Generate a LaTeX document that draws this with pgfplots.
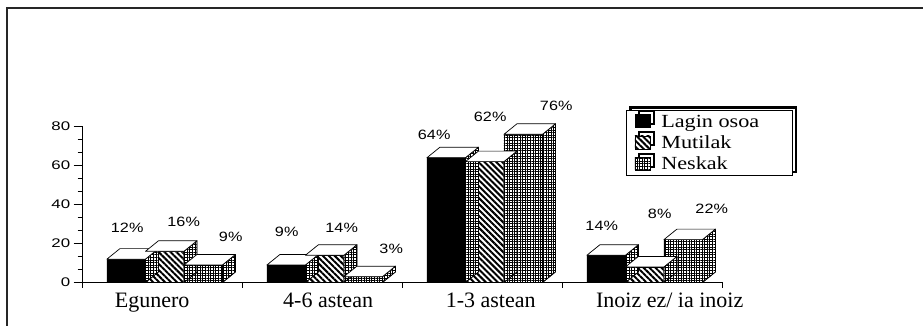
\documentclass[border=0pt]{standalone}
\usepackage{fontspec}
\setmainfont{Liberation Serif}
\newfontfamily\arialY[FakeStretch=1.35]{Liberation Sans}
\newfontfamily\arialP[FakeStretch=1.2]{Liberation Sans}
\newfontfamily\timesL[FakeStretch=1.2]{Liberation Serif}
\usepackage{pgfplots}
\usepackage{pgfplotstable}
\pgfplotsset{compat=1.18}
\usetikzlibrary{patterns.meta,shadows}

\tikzset{
  sidepat/.style={preaction={fill=white},pattern={Hatch[angle=0,distance=2.6pt,line width=1pt]},pattern color=black},
  mutpat/.style={preaction={fill=white},pattern={Lines[angle=-45,distance=4.2pt,line width=2pt]},pattern color=black},
  nespat/.style={preaction={fill=white},pattern={Hatch[angle=0,distance=2.6pt,line width=1pt]},pattern color=black},
}

% 3D top and side faces of a bar, drawn by pgfplots at each data point
\newcommand\declarebox[2]{%
 \pgfdeclareplotmark{#1}{%
  \pgfmathsetmacro\bxh{\yval*1.95}%
  \pgfmathsetmacro\bxl{#2-19.25}%
  \pgfmathsetmacro\bxr{#2+19.25}%
  \pgfmathsetmacro\bxlb{#2-19.25+13}%
  \pgfmathsetmacro\bxrb{#2+19.25+13}%
  \pgfmathsetmacro\bxhb{10.5-\bxh}%
  \path[draw=black,line width=0.7pt,line join=round,sidepat]
    (\bxr pt,0pt) -- (\bxr pt,-\bxh pt) -- (\bxrb pt,\bxhb pt) -- (\bxrb pt,10.5pt) -- cycle;
  \path[draw=black,line width=0.7pt,line join=round,fill=white]
    (\bxl pt,0pt) -- (\bxr pt,0pt) -- (\bxrb pt,10.5pt) -- (\bxlb pt,10.5pt) -- cycle;
 }}
\declarebox{boxA}{-36.5}
\declarebox{boxB}{2}
\declarebox{boxC}{40.5}

% x = category centre, y = value, lx/ly = label offset (pt)
\pgfplotstableread{
x y lx ly
0.5 12 -35.5 31.3
1.5 9 -36 33.1
2.5 64 -48.5 23
3.5 14 -41 29.4
}\tblA
\pgfplotstableread{
x y lx ly
0.5 16 21 29
1.5 14 19 27.4
2.5 62 7.5 44.4
3.5 8 17 53.5
}\tblB
\pgfplotstableread{
x y lx ly
0.5 9 68 28.1
1.5 3 68.5 27.7
2.5 76 73.5 28.75
3.5 22 69 30.4
}\tblC

\pgfplotsset{
  boxplot3d/.style={scatter, only marks, forget plot,
    visualization depends on={rawy \as \yval},
    visualization depends on={\thisrow{lx} \as \lx},
    visualization depends on={\thisrow{ly} \as \ly},
    scatter/@pre marker code/.code={\pgfscope},
    scatter/@post marker code/.code={\endpgfscope},
    point meta=y,
    nodes near coords={\pgfmathprintnumber{\pgfplotspointmeta}\%},
    every node near coord/.append style={anchor=center, xshift=\lx pt, yshift=\ly pt,
      font=\arialP\fontsize{13.5}{15}\selectfont, text=black, inner sep=0pt},
  },
  swatch/.style={legend image code/.code={%
    \path (0pt,0pt) (27pt,0pt);
    \path[draw=black,line width=0.7pt,#1] (3pt,-6pt) rectangle (18pt,7pt);}},
}

\begin{document}
\begin{tikzpicture}
\useasboundingbox (0,0) rectangle (923pt,325pt);
\draw[line width=1.8pt, black!85] (7pt,-2pt) -- (7pt,317pt) -- (926pt,317pt);
\begin{axis}[
  at={(82.7pt,42.5pt)}, anchor=south west,
  scale only axis, width=640pt, height=156pt,
  xmin=0, xmax=4, ymin=0, ymax=80,
  clip=false,
  axis x line*=bottom, axis y line*=left,
  axis line style={line width=1pt, -},
  ytick={0,20,40,60,80}, minor y tick num=2,
  xtick={0.434,1.534,2.55,3.669},
  xticklabels={Egunero, 4-6 astean, 1-3 astean, Inoiz ez/ ia inoiz},
  minor xtick={0,1,2,3,4},
  every major x tick/.append style={draw=none},
  tick align=outside,
  major tick length=9pt, minor tick length=5pt,
  tick style={black, line width=0.9pt},
  /pgf/number format/assume math mode=true,
  yticklabel style={font=\arialY\fontsize{12.5}{14}\selectfont},
  xticklabel style={font=\fontsize{22}{24}\selectfont, inner sep=1pt},
  legend cell align=left,
  legend style={at={(axis description cs:0.849,1.103)}, anchor=north west,
    draw=black, line width=1pt, fill=white,
    general shadow={shadow xshift=4pt, shadow yshift=3.5pt, draw=black, line width=2.2pt, fill=white},
    font=\timesL\fontsize{18.5}{20}\selectfont,
    inner xsep=5pt, inner ysep=2pt, row sep=3pt},
]
\addplot[ybar, bar width=38.5pt, bar shift=-36.5pt, draw=black, line width=0.7pt, fill=black,
  swatch={fill=black}]
  table[x=x,y=y]{\tblA};
\addlegendentry{\makebox[124pt][l]{Lagin osoa}}
\addplot[boxplot3d, mark=boxA] table[x=x,y=y]{\tblA};

\addplot[ybar, bar width=38.5pt, bar shift=2pt, draw=black, line width=0.7pt, mutpat,
  swatch={mutpat}]
  table[x=x,y=y]{\tblB};
\addlegendentry{\makebox[124pt][l]{Mutilak}}
\addplot[boxplot3d, mark=boxB] table[x=x,y=y]{\tblB};

\addplot[ybar, bar width=38.5pt, bar shift=40.5pt, draw=black, line width=0.7pt, nespat,
  swatch={nespat}]
  table[x=x,y=y]{\tblC};
\addlegendentry{\makebox[124pt][l]{Neskak}}
\addplot[boxplot3d, mark=boxC] table[x=x,y=y]{\tblC};
\end{axis}
\end{tikzpicture}
\end{document}
